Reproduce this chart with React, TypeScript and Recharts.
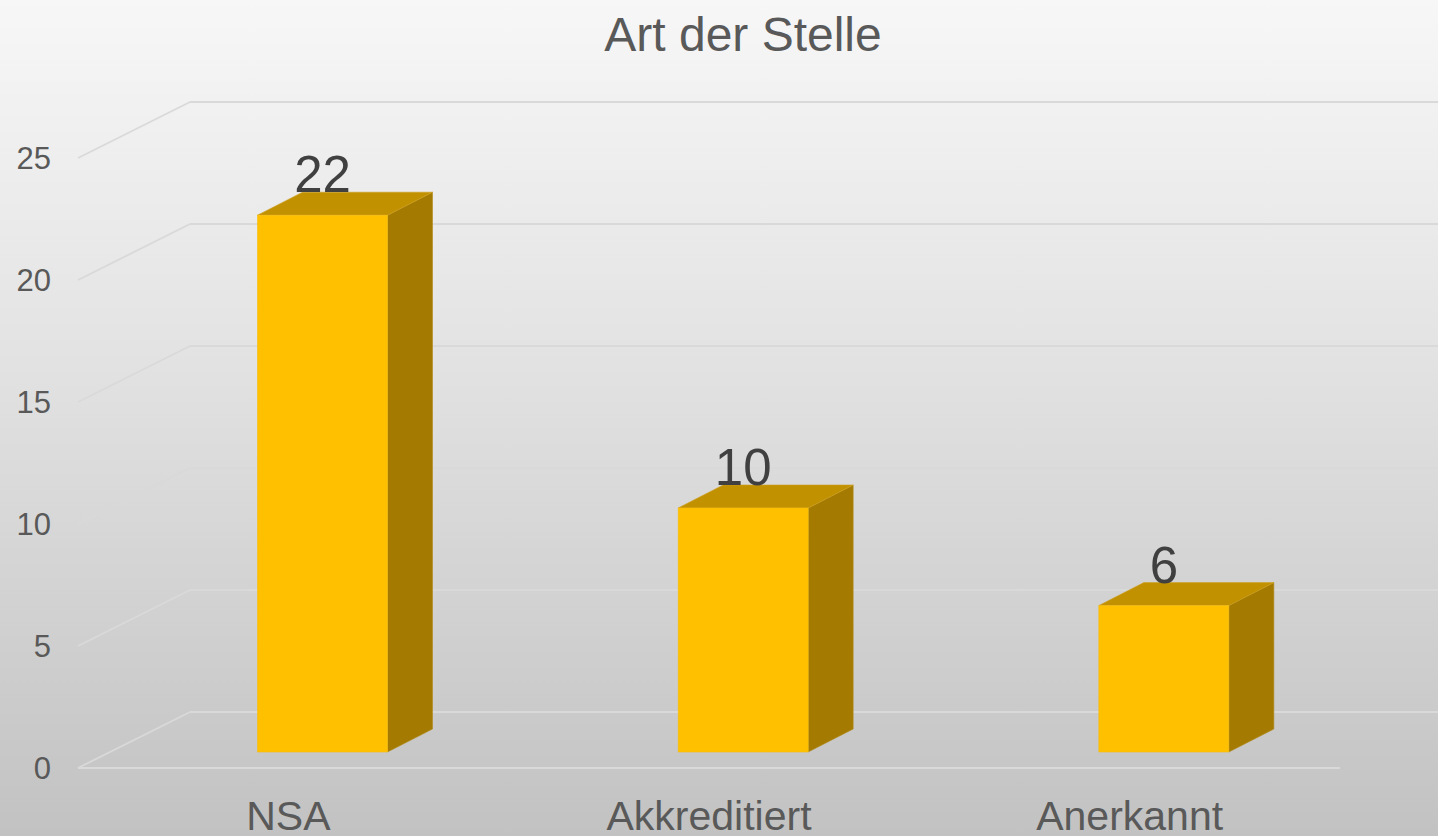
import React from "react"
import { BarChart, Bar, XAxis, YAxis, CartesianGrid, LabelList } from "recharts"

const categories = ["NSA", "Akkreditiert", "Anerkannt"]
const values = [22, 10, 6]
const yTicks = [0, 5, 10, 15, 20, 25]
const title = "Art der Stelle"

const data = categories.map((name, i) => ({ name, value: values[i] }))

const FONT = "'Liberation Sans', Arial, Helvetica, sans-serif"
const W = 1438
const H = 836

// 3D look: offset of back wall, offset of bar face, bar depth
const WALL_DX = 112
const WALL_DY = 56
const FACE_DX = 34.5
const FACE_DY = 16
const DEPTH_DX = 45
const DEPTH_DY = 23

const GRID = "#d9d9d9"

function GridLine(props: any) {
  const { x1, y1 } = props
  const bx = x1 + WALL_DX
  const by = y1 - WALL_DY
  return (
    <g key={`g-${y1}`}>
      <line x1={x1} y1={y1} x2={bx} y2={by} stroke={GRID} strokeWidth={1.8} />
      <line x1={bx} y1={by} x2={W} y2={by} stroke={GRID} strokeWidth={1.8} />
    </g>
  )
}

function Box(props: any) {
  const { x, y, width, height } = props
  if (width == null || height == null) return null
  const fx = x + FACE_DX
  const fy = y - FACE_DY
  const w = width
  const h = height
  const top = `${fx},${fy} ${fx + DEPTH_DX},${fy - DEPTH_DY} ${fx + w + DEPTH_DX},${fy - DEPTH_DY} ${fx + w},${fy}`
  const side = `${fx + w},${fy} ${fx + w + DEPTH_DX},${fy - DEPTH_DY} ${fx + w + DEPTH_DX},${fy + h - DEPTH_DY} ${fx + w},${fy + h}`
  return (
    <g>
      <polygon points={side} fill="#A47B00" stroke="#B08A1a" strokeWidth={0.6} />
      <polygon points={top} fill="#C29100" stroke="#CFA020" strokeWidth={0.6} />
      <rect x={fx} y={fy} width={w} height={h} fill="#FFC000" stroke="#F5BD10" strokeWidth={0.6} />
    </g>
  )
}

function ValueLabel(props: any) {
  const { x, y, width, value } = props
  return (
    <text
      x={x + width / 2 + FACE_DX}
      y={y - 39}
      textAnchor="middle"
      fontFamily={FONT}
      fontSize={51}
      fill="#404040"
    >
      {value}
    </text>
  )
}

function YTick(props: any) {
  const { y, payload } = props
  return (
    <text x={51} y={y} dy="0.36em" textAnchor="end" fontFamily={FONT} fontSize={31} fill="#595959">
      {payload.value}
    </text>
  )
}

function XTick(props: any) {
  const { x, payload } = props
  return (
    <text x={x} y={830} textAnchor="middle" fontFamily={FONT} fontSize={41} fill="#595959">
      {payload.value}
    </text>
  )
}

export default function App() {
  return (
    <div
      style={{
        position: "absolute",
        left: 0,
        top: 0,
        width: W,
        height: H,
        background: "linear-gradient(to bottom, #f7f7f7 0%, #e4e4e4 40%, #c2c2c2 100%)",
        overflow: "hidden",
      }}
    >
      <div
        style={{
          position: "absolute",
          top: 7,
          left: 743,
          transform: "translateX(-50%)",
          fontFamily: FONT,
          fontSize: 48,
          color: "#595959",
          whiteSpace: "nowrap",
        }}
      >
        {title}
      </div>
      <BarChart width={W} height={H} data={data} margin={{ top: 158, right: 98, bottom: 0, left: 0 }}>
        <CartesianGrid vertical={false} horizontal={(p: any) => <GridLine {...p} />} />
        <XAxis
          dataKey="name"
          height={68}
          tickLine={false}
          axisLine={{ stroke: GRID, strokeWidth: 1.8 }}
          tick={<XTick />}
          interval={0}
        />
        <YAxis
          width={78}
          domain={[0, 25]}
          ticks={yTicks}
          tickLine={false}
          axisLine={false}
          tick={<YTick />}
        />
        <Bar dataKey="value" barSize={130} shape={<Box />} isAnimationActive={false}>
          <LabelList dataKey="value" content={<ValueLabel />} />
        </Bar>
      </BarChart>
    </div>
  )
}
